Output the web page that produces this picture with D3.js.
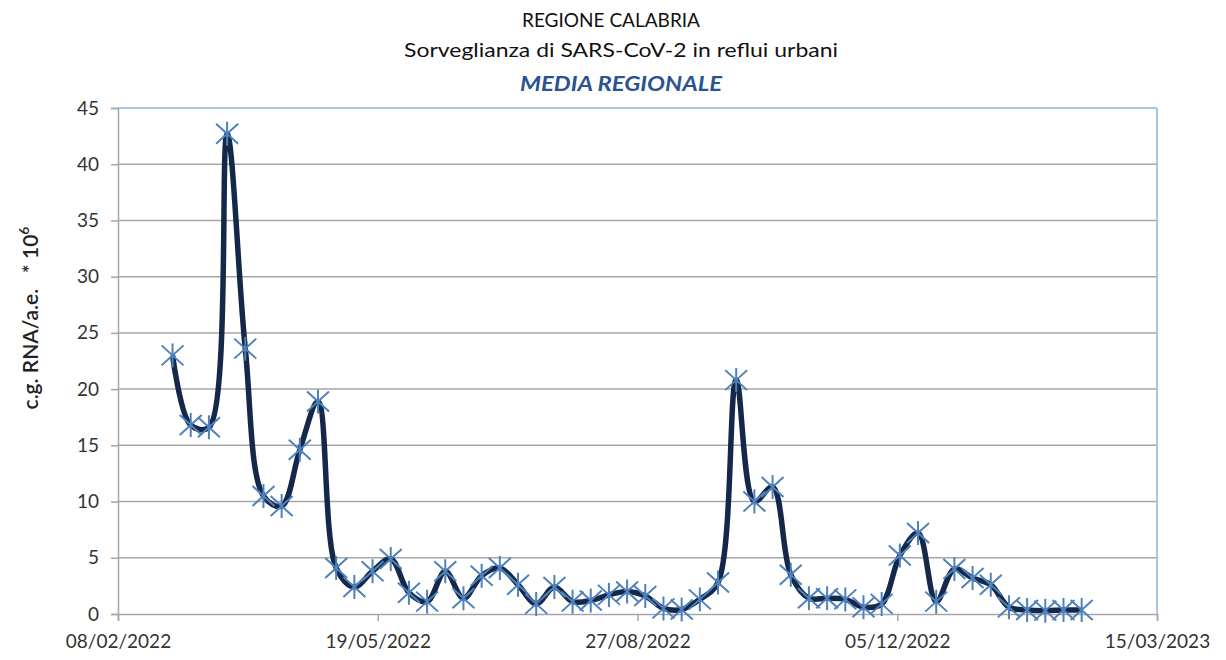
<!DOCTYPE html>
<html><head><meta charset="utf-8">
<script src="https://cdn.jsdelivr.net/npm/d3@7"></script>
<style>body{margin:0;background:#fff}svg{display:block}</style>
</head><body><svg id="c" width="1226" height="660"></svg>
<script>
const dates = ["2022-03-01","2022-03-08","2022-03-15","2022-03-22","2022-03-29","2022-04-05","2022-04-12","2022-04-19","2022-04-26","2022-05-03","2022-05-10","2022-05-17","2022-05-24","2022-05-31","2022-06-07","2022-06-14","2022-06-21","2022-06-28","2022-07-05","2022-07-12","2022-07-19","2022-07-26","2022-08-02","2022-08-09","2022-08-16","2022-08-23","2022-08-30","2022-09-06","2022-09-13","2022-09-20","2022-09-27","2022-10-04","2022-10-11","2022-10-18","2022-10-25","2022-11-01","2022-11-08","2022-11-15","2022-11-22","2022-11-29","2022-12-06","2022-12-13","2022-12-20","2022-12-27","2023-01-03","2023-01-10","2023-01-17","2023-01-24","2023-01-31","2023-02-07","2023-02-14"];
const values = [23.0,16.8,16.6,42.7,23.6,10.5,9.6,14.6,18.9,4.1,2.4,3.8,4.9,1.9,1.1,3.8,1.4,3.4,4.1,2.6,0.9,2.4,1.1,1.2,1.7,2.0,1.6,0.5,0.4,1.3,2.8,20.8,10.0,11.3,3.5,1.4,1.4,1.3,0.6,0.9,5.2,7.2,1.1,4.0,3.2,2.6,0.6,0.35,0.3,0.35,0.35];
const xTicks = ["2022-02-08","2022-05-19","2022-08-27","2022-12-05","2023-03-15"];
const yTicks = [0,5,10,15,20,25,30,35,40,45];
const titles = ["REGIONE CALABRIA","Sorveglianza di SARS-CoV-2 in reflui urbani","MEDIA REGIONALE"];

const parse = d3.utcParse("%Y-%m-%d");
const fmt = d3.utcFormat("%d/%m/%Y");
const L=118, R=1157, T=108, B=614;
const svg = d3.select("#c");
const font = "Lato, 'Open Sans', sans-serif";

const x = d3.scaleUtc().domain([parse(xTicks[0]), parse(xTicks[xTicks.length-1])]).range([L,R]);
const y = d3.scaleLinear().domain([0,45]).range([B,T]);

// gridlines
svg.append("g").selectAll("line").data(yTicks.filter(v=>v>0&&v<45)).join("line")
  .attr("x1",L).attr("x2",R).attr("y1",d=>y(d)).attr("y2",d=>y(d))
  .attr("stroke","#a6a6a6").attr("stroke-width",1.5);
// plot border top/right
svg.append("line").attr("x1",L).attr("x2",R).attr("y1",T).attr("y2",T).attr("stroke","#8db3e2").attr("stroke-width",1.5);
svg.append("line").attr("x1",R).attr("x2",R).attr("y1",T).attr("y2",B).attr("stroke","#8db3e2").attr("stroke-width",1.5);

// y axis
const ya = svg.append("g").attr("transform",`translate(${L},0)`)
  .call(d3.axisLeft(y).tickValues(yTicks).tickSize(7).tickPadding(12).tickFormat(d3.format("d")));
ya.select(".domain").attr("stroke","#a6a6a6").attr("stroke-width",1.5);
ya.selectAll(".tick line").attr("stroke","#a6a6a6").attr("stroke-width",1.5);
ya.selectAll("text").attr("font-family",font).attr("font-size",19).attr("fill","#333");

// x axis
const xa = svg.append("g").attr("transform",`translate(0,${B})`)
  .call(d3.axisBottom(x).tickValues(xTicks.map(parse)).tickSize(7).tickPadding(14).tickFormat(fmt));
xa.select(".domain").attr("stroke","#a6a6a6").attr("stroke-width",1.5);
xa.selectAll(".tick line").attr("stroke","#a6a6a6").attr("stroke-width",1.5);
xa.selectAll("text").attr("font-family",font).attr("font-size",19).attr("fill","#333");

// line
const pts = dates.map((d,i)=>({d:parse(d),v:values[i]}));
svg.append("path").datum(pts)
  .attr("d", d3.line().x(p=>x(p.d)).y(p=>y(p.v)).curve(d3.curveCatmullRom.alpha(0.5)))
  .attr("fill","none").attr("stroke","#14294a").attr("stroke-width",5.5).attr("stroke-linejoin","round");

// asterisk markers
const m = svg.append("g").selectAll("g").data(pts).join("g")
  .attr("transform",p=>`translate(${x(p.d)},${y(p.v)})`);
m.append("path").attr("d","M-11,-10L11,10M-11,10L11,-10M0,-12L0,12")
  .attr("stroke","#4f81bd").attr("stroke-width",2).attr("fill","none");

// titles
svg.append("text").attr("x",611).attr("y",27).attr("text-anchor","middle")
  .attr("font-family",font).attr("font-size",19).attr("fill","#111")
  .attr("textLength",178).attr("lengthAdjust","spacingAndGlyphs").text(titles[0]);
svg.append("text").attr("x",621).attr("y",57).attr("text-anchor","middle")
  .attr("font-family",font).attr("font-size",19).attr("fill","#111")
  .attr("textLength",434).attr("lengthAdjust","spacingAndGlyphs").text(titles[1]);
svg.append("text").attr("x",621).attr("y",91).attr("text-anchor","middle")
  .attr("font-family",font).attr("font-size",20).attr("font-weight","bold").attr("font-style","italic")
  .attr("fill","#2a5393").attr("textLength",202).attr("lengthAdjust","spacingAndGlyphs").text(titles[2]);

// y axis title
const yt = svg.append("text").attr("transform","translate(38,318) rotate(-90)").attr("text-anchor","middle")
  .style("white-space","pre")
  .attr("font-family",font).attr("font-size",21).attr("font-weight","600").attr("fill","#222");
yt.append("tspan").text("c.g. RNA/a.e.   * 10");
yt.append("tspan").attr("font-size",14).attr("dy",-9).text("6");
</script></body></html>
